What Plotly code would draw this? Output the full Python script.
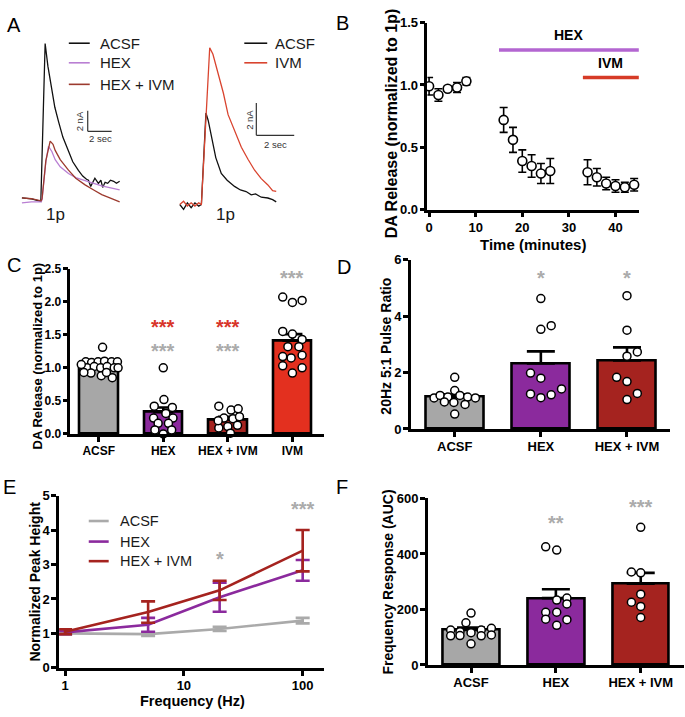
import math
import plotly.graph_objects as go

W, H = 685, 717
FONT = "Liberation Sans, Arial, sans-serif"

# ---------------- DATA ----------------
# Panel A (left): example traces, time (s) vs current (nA)
A_ACSF_t = [0, 0.8, 1.58, 1.94, 2.17, 2.5, 2.75, 3.06, 3.42, 3.89, 4.25, 4.72, 5.08, 5.4, 5.56, 5.75, 5.9, 6.1, 6.39, 6.6, 6.75, 6.95, 7.17, 7.4, 7.67, 7.9, 8.17]
A_ACSF_v = [0.38, 0.29, 0.05, 15.4, 13.2, 11.0, 9.2, 7.8, 6.3, 4.95, 3.9, 3.05, 2.5, 2.2, 2.1, 1.5, 1.9, 2.3, 1.8, 2.1, 1.4, 1.9, 1.8, 2.1, 2.0, 1.8, 2.0]
A_HEX_t = [0, 0.8, 1.6, 1.68, 2.0, 2.22, 2.5, 2.78, 3.2, 3.89, 4.5, 5.28, 6.0, 6.67, 7.4, 8.17]
A_HEX_v = [-0.1, 0.0, 0.0, 0.2, 3.9, 5.4, 4.9, 4.1, 3.4, 2.76, 2.35, 2.1, 1.8, 1.55, 1.35, 1.17]
A_HEXIVM_t = [0, 0.8, 1.6, 1.68, 2.0, 2.36, 2.6, 2.78, 3.2, 3.89, 4.5, 5.28, 6.0, 6.67, 7.4, 8.17]
A_HEXIVM_v = [0.38, 0.3, 0.1, 0.3, 4.0, 5.9, 5.6, 5.0, 4.1, 3.08, 2.3, 1.65, 1.15, 0.7, 0.35, 0.0]
# Panel A (right)
A2_ACSF_t = [0, 0.2, 0.4, 0.6, 0.8, 1.0, 1.14, 1.38, 1.5, 1.67, 1.9, 2.19, 2.5, 2.89, 3.2, 3.5, 3.77, 4.0, 4.3, 4.65, 4.9, 5.09]
A2_ACSF_v = [0, -0.3, 0.1, -0.2, 0.1, -0.1, 0, 5.66, 5.2, 4.15, 2.9, 1.92, 1.5, 1.12, 0.9, 0.8, 0.6, 0.65, 0.45, 0.4, 0.3, 0.16]
A2_IVM_t = [0, 0.2, 0.4, 0.6, 0.8, 1.0, 1.14, 1.4, 1.58, 1.75, 2.02, 2.3, 2.55, 2.9, 3.25, 3.6, 3.95, 4.3, 4.65, 4.9, 5.09]
A2_IVM_v = [0, 0.2, -0.1, 0.1, -0.1, 0.1, 0, 6.0, 9.7, 9.3, 8.18, 6.9, 5.56, 4.5, 3.54, 2.8, 2.12, 1.6, 1.21, 0.85, 0.81]
SCALE_NA = 2
SCALE_SEC = 2

# Panel B: time course
B_time = [0, 2, 4, 6, 8, 16, 18, 20, 22, 24, 26, 34, 36, 38, 40, 42, 44]
B_mean = [0.99, 0.92, 0.97, 0.98, 1.03, 0.72, 0.56, 0.39, 0.35, 0.29, 0.31, 0.30, 0.26, 0.21, 0.19, 0.18, 0.20]
B_sem = [0.07, 0.05, 0.02, 0.04, 0.03, 0.10, 0.10, 0.09, 0.09, 0.08, 0.10, 0.10, 0.07, 0.05, 0.05, 0.04, 0.05]
B_HEX_window = [15, 45]
B_IVM_window = [33, 45]

# Panel C
C_cats = ["ACSF", "HEX", "HEX + IVM", "IVM"]
C_mean = [1.04, 0.33, 0.22, 1.41]
C_sem = [0.03, 0.07, 0.04, 0.10]
C_ACSF_pts = [1.31, 1.09, 1.08, 1.09, 1.10, 1.09, 1.09, 1.00, 1.02, 1.00, 1.02, 1.00, 1.05, 1.00, 0.92, 0.88, 0.85, 0.93, 0.93]
C_ACSF_off = [0.06, -0.2, -0.11, -0.01, 0.09, 0.2, 0.29, -0.18, -0.07, 0.03, 0.13, 0.24, -0.27, 0.3, -0.12, 0.04, 0.21, -0.23, 0.12]
C_HEX_pts = [1.0, 0.52, 0.42, 0.40, 0.24, 0.31, 0.24, 0.16, 0.16, 0.06, 0.06, 0.0]
C_HEX_off = [0, 0.01, -0.14, 0.14, -0.15, 0.04, 0.15, -0.08, 0.08, -0.13, 0.13, 0]
C_HEXIVM_pts = [0.42, 0.36, 0.38, 0.24, 0.23, 0.26, 0.09, 0.11, 0.13, 0.01, 0.20]
C_HEXIVM_off = [-0.14, 0.05, 0.16, -0.06, 0.08, 0.18, -0.14, 0, 0.15, 0.04, -0.15]
C_IVM_pts = [2.07, 1.99, 2.02, 1.55, 1.51, 1.43, 1.32, 1.17, 1.15, 1.19, 1.03, 1.00, 0.92, 1.32]
C_IVM_off = [-0.15, 0, 0.15, -0.15, 0, 0.15, 0.1, -0.15, -0.02, 0.15, -0.15, 0.15, 0, -0.07]

# Panel D
D_cats = ["ACSF", "HEX", "HEX + IVM"]
D_mean = [1.13, 2.32, 2.43]
D_sem = [0.10, 0.43, 0.46]
D_ACSF_pts = [1.83, 1.36, 1.10, 1.19, 1.13, 1.19, 1.13, 1.10, 0.96, 0.94, 0.87, 0.53]
D_ACSF_off = [0, 0, -0.24, -0.17, -0.08, 0.06, 0.15, 0.24, -0.12, -0.01, 0.12, 0]
D_HEX_pts = [4.62, 3.53, 3.66, 1.98, 1.80, 1.24, 1.11, 1.21, 1.42]
D_HEX_off = [0, 0, 0.12, -0.12, 0, -0.12, 0, 0.12, 0.24]
D_HEXIVM_pts = [4.72, 3.50, 2.58, 2.73, 1.83, 1.68, 1.26, 1.04]
D_HEXIVM_off = [0, 0, 0, 0.12, -0.12, 0, 0.12, 0]

# Panel E
E_freq = [1, 5, 20, 100]
E_ACSF = [1.0, 0.98, 1.13, 1.37]
E_ACSF_err = [0.03, 0.05, 0.06, 0.08]
E_HEX = [1.03, 1.25, 2.05, 2.83]
E_HEX_err = [0.05, 0.2, 0.42, 0.3]
E_HEXIVM = [1.05, 1.62, 2.25, 3.40]
E_HEXIVM_err = [0.07, 0.31, 0.28, 0.6]

# Panel F
F_cats = ["ACSF", "HEX", "HEX + IVM"]
F_mean = [126, 241, 293]
F_sem = [9, 32, 39]
F_ACSF_pts = [187, 152, 126, 120, 126, 132, 105, 106, 116, 105, 108, 76]
F_ACSF_off = [0, -0.06, -0.24, -0.13, 0.12, 0.24, -0.24, -0.13, 0, 0.12, 0.24, 0]
F_HEX_pts = [426, 414, 234, 241, 190, 190, 220, 165, 163, 143]
F_HEX_off = [-0.12, 0.01, 0.01, 0.13, -0.12, 0.01, 0.13, -0.12, 0.13, 0.01]
F_HEXIVM_pts = [496, 335, 332, 255, 226, 211, 171]
F_HEXIVM_off = [0, -0.11, 0, 0, -0.11, 0, 0]

# ---------------- STYLE ----------------
GRAY = "#a7a7a7"
PURPLE = "#8b2a9d"
DARKRED = "#a5231f"
RED = "#e3301f"
STAR_GRAY = "#ababab"
STAR_RED = "#d8352a"
TR_HEX = "#b97fd3"
TR_HEXIVM = "#9c3a2e"
TR_IVM = "#d9442f"


def px(x):
    return x / W


def py(y):
    return 1 - y / H


fig = go.Figure()

# Panel A traces
for t, v, c in [(A_ACSF_t, A_ACSF_v, "#111111"), (A_HEX_t, A_HEX_v, TR_HEX), (A_HEXIVM_t, A_HEXIVM_v, TR_HEXIVM)]:
    fig.add_trace(go.Scatter(x=t, y=v, mode="lines", line=dict(color=c, width=1.3), xaxis="x", yaxis="y"))
for t, v, c in [(A2_ACSF_t, A2_ACSF_v, "#111111"), (A2_IVM_t, A2_IVM_v, TR_IVM)]:
    fig.add_trace(go.Scatter(x=t, y=v, mode="lines", line=dict(color=c, width=1.3), xaxis="x2", yaxis="y2"))

# Panel B
fig.add_trace(go.Scatter(
    x=B_time, y=B_mean, mode="markers", xaxis="x3", yaxis="y3", cliponaxis=False,
    marker=dict(symbol="circle", size=9, color="white", line=dict(color="black", width=1.6)),
    error_y=dict(type="data", array=B_sem, color="black", thickness=1.6, width=4)))


def bar_panel(xa, ya, cats, means, sems, colors, pts, offs, width, capw):
    n = len(cats)
    fig.add_trace(go.Bar(
        x=list(range(n)), y=means, width=width, xaxis=xa, yaxis=ya,
        marker=dict(color=colors, line=dict(color="black", width=2.6)),
        error_y=dict(type="data", symmetric=False, array=sems, arrayminus=[0] * n,
                     color="black", thickness=2.6, width=capw)))
    for i, (p, o) in enumerate(zip(pts, offs)):
        fig.add_trace(go.Scatter(
            x=[i + d for d in o], y=p, mode="markers", xaxis=xa, yaxis=ya, cliponaxis=False,
            marker=dict(symbol="circle", size=8, color="white", line=dict(color="black", width=1.5))))


bar_panel("x4", "y4", C_cats, C_mean, C_sem, [GRAY, PURPLE, DARKRED, RED],
          [C_ACSF_pts, C_HEX_pts, C_HEXIVM_pts, C_IVM_pts],
          [C_ACSF_off, C_HEX_off, C_HEXIVM_off, C_IVM_off], 0.6, 10)
bar_panel("x5", "y5", D_cats, D_mean, D_sem, [GRAY, PURPLE, DARKRED],
          [D_ACSF_pts, D_HEX_pts, D_HEXIVM_pts],
          [D_ACSF_off, D_HEX_off, D_HEXIVM_off], 0.68, 14)
bar_panel("x7", "y7", F_cats, F_mean, F_sem, [GRAY, PURPLE, DARKRED],
          [F_ACSF_pts, F_HEX_pts, F_HEXIVM_pts],
          [F_ACSF_off, F_HEX_off, F_HEXIVM_off], 0.67, 14)

# Panel E
for y, e, c in [(E_ACSF, E_ACSF_err, "#aaaaaa"), (E_HEX, E_HEX_err, PURPLE), (E_HEXIVM, E_HEXIVM_err, DARKRED)]:
    fig.add_trace(go.Scatter(
        x=E_freq, y=y, mode="lines", xaxis="x6", yaxis="y6",
        line=dict(color=c, width=2.6),
        error_y=dict(type="data", array=e, color=c, thickness=2.6, width=7)))


def ax(**kw):
    d = dict(showline=True, linecolor="black", linewidth=2.5, ticks="outside", ticklen=5,
             tickwidth=2.5, tickcolor="black", showgrid=False, zeroline=False,
             tickfont=dict(family=FONT, size=13, color="black", weight="bold"), fixedrange=True,
             ticklabelstandoff=-1)
    d.update(kw)
    return d


hidden = dict(visible=False, fixedrange=True)
layout_axes = dict(
    xaxis=dict(hidden, domain=[px(10), px(130)], range=[-0.833, 9.17], anchor="y"),
    yaxis=dict(hidden, domain=[py(210), py(20)], range=[-1.05, 17.05], anchor="x"),
    xaxis2=dict(hidden, domain=[px(170), px(300)], range=[-0.437, 6.405], anchor="y2"),
    yaxis2=dict(hidden, domain=[py(210), py(20)], range=[-0.503, 11.01], anchor="x2"),
    xaxis3=ax(domain=[px(426.7), px(639)], range=[-0.35, 45.07], anchor="y3", tickvals=[0, 10, 20, 30, 40]),
    yaxis3=ax(domain=[py(207), py(16)], range=[0, 1.5], anchor="x3", tickvals=[0, 0.5, 1.0, 1.5], tickformat=".1f"),
    xaxis4=ax(domain=[px(68.5), px(323)], range=[-0.44, 3.49], anchor="y4", tickvals=list(range(len(C_cats))),
              ticktext=C_cats, tickfont=dict(family=FONT, size=12, color="black", weight="bold")),
    yaxis4=ax(domain=[py(436), py(267.3)], range=[0, 2.5], anchor="x4", tickvals=[0, 0.5, 1.0, 1.5, 2.0, 2.5],
              tickformat=".1f", tickfont=dict(family=FONT, size=12, color="black", weight="bold")),
    xaxis5=ax(domain=[px(410), px(670)], range=[-0.51, 2.5], anchor="y5", tickvals=list(range(len(D_cats))), ticktext=D_cats),
    yaxis5=ax(domain=[py(431), py(258)], range=[0, 6], anchor="x5", tickvals=[0, 2, 4, 6]),
    xaxis6=ax(domain=[px(57.3), px(323)], type="log", range=[-0.05, 2.18], anchor="y6", tickvals=[1, 10, 100], ticktext=["1", "10", "100"]),
    yaxis6=ax(domain=[py(675), py(499)], range=[0, 5], anchor="x6", tickvals=[0, 1, 2, 3, 4, 5]),
    xaxis7=ax(domain=[px(427), px(684)], range=[-0.51, 2.51], anchor="y7", tickvals=list(range(len(F_cats))), ticktext=F_cats),
    yaxis7=ax(domain=[py(672), py(502)], range=[0, 600], anchor="x7", tickvals=[0, 200, 400, 600]),
)

shapes = []
ann = []


def text(x, y, s, size, color="black", bold=False, angle=0, xanchor="center", yanchor="middle", xref="paper", yref="paper"):
    ann.append(dict(x=x, y=y, xref=xref, yref=yref, text=s, showarrow=False, textangle=angle,
                    xanchor=xanchor, yanchor=yanchor,
                    font=dict(family=FONT, size=size, color=color, weight="bold" if bold else "normal")))


# Panel letters
for L, x, y in [("A", 12, 18), ("B", 341, 16), ("C", 12, 264), ("D", 343, 266), ("E", 8, 490), ("F", 341, 490)]:
    text(px(x), py(y), L, 20)

# Panel A legends
for lab, c, y in [("ACSF", "#111111", 37), ("HEX", TR_HEX, 57), ("HEX + IVM", TR_HEXIVM, 79)]:
    shapes.append(dict(type="line", xref="paper", yref="paper", x0=px(67), x1=px(88), y0=py(y), y1=py(y),
                       line=dict(color=c, width=1.6)))
    text(px(96), py(y), lab, 15, color="#1a1a1a", xanchor="left")
for lab, c, y in [("ACSF", "#111111", 37), ("IVM", TR_IVM, 57)]:
    shapes.append(dict(type="line", xref="paper", yref="paper", x0=px(243), x1=px(266), y0=py(y), y1=py(y),
                       line=dict(color=c, width=1.6)))
    text(px(272), py(y), lab, 15, color="#1a1a1a", xanchor="left")

# Panel A scale bars (data units of each trace axis)
for xr, yr, t0, v0 in [("x", "y", 5.5, 6.86), ("x2", "y2", 4.04, 4.28)]:
    shapes.append(dict(type="line", xref=xr, yref=yr, x0=t0, x1=t0, y0=v0, y1=v0 + SCALE_NA, line=dict(color="#333333", width=1.2)))
    shapes.append(dict(type="line", xref=xr, yref=yr, x0=t0, x1=t0 + SCALE_SEC, y0=v0, y1=v0, line=dict(color="#333333", width=1.2)))
text(px(78), py(117), "2 nA", 9.5, color="#333333", angle=-90)
text(px(99), py(134), "2 sec", 9.5, color="#333333")
text(px(248), py(115), "2 nA", 9.5, color="#333333", angle=-90)
text(px(274), py(140), "2 sec", 9.5, color="#333333")
text(px(54), py(212), "1p", 17, color="#1a1a1a")
text(px(224), py(212), "1p", 17, color="#1a1a1a")

# Panel B treatment bars
shapes.append(dict(type="line", xref="x3", yref="y3", x0=B_HEX_window[0], x1=B_HEX_window[1], y0=1.28, y1=1.28,
                   line=dict(color="#b366d1", width=3.5)))
shapes.append(dict(type="line", xref="x3", yref="y3", x0=B_IVM_window[0], x1=B_IVM_window[1], y0=1.06, y1=1.06,
                   line=dict(color="#d63b27", width=3.5)))
text(30, 1.40, "HEX", 14, bold=True, xref="x3", yref="y3")
text(38.9, 1.18, "IVM", 14, bold=True, xref="x3", yref="y3")

# Axis titles
text(px(391), py(119), "DA Release (normalized to 1p)", 16, bold=True, angle=-90)
text(px(533), py(243), "Time (minutes)", 15, bold=True)
text(px(36), py(356), "DA Release (normalized to 1p)", 13, bold=True, angle=-90)
text(px(385), py(346), "20Hz 5:1 Pulse Ratio", 14, bold=True, angle=-90)
text(px(33), py(587), "Normalized Peak Height", 14, bold=True, angle=-90)
text(px(191), py(709), "Frequency (Hz)", 14.5, bold=True)
text(px(387), py(587), "Frequency Response (AUC)", 14, bold=True, angle=-90)

# Panel E legend
for lab, c, y in [("ACSF", "#aaaaaa", 525), ("HEX", PURPLE, 546), ("HEX + IVM", DARKRED, 566)]:
    shapes.append(dict(type="line", xref="paper", yref="paper", x0=px(87), x1=px(107), y0=py(y), y1=py(y),
                       line=dict(color=c, width=2.6)))
    text(px(116), py(y), lab, 14.5, color="#1a1a1a", xanchor="left")

# Significance stars
SZ = 20
text(1, 1.62, "***", SZ, STAR_RED, True, xref="x4", yref="y4")
text(2, 1.62, "***", SZ, STAR_RED, True, xref="x4", yref="y4")
text(1, 1.25, "***", SZ, STAR_GRAY, True, xref="x4", yref="y4")
text(2, 1.25, "***", SZ, STAR_GRAY, True, xref="x4", yref="y4")
text(3, 2.36, "***", SZ, STAR_GRAY, True, xref="x4", yref="y4")
text(1, 5.35, "*", SZ, STAR_GRAY, True, xref="x5", yref="y5")
text(2, 5.35, "*", SZ, STAR_GRAY, True, xref="x5", yref="y5")
text(math.log10(20), 3.15, "*", SZ, STAR_GRAY, True, xref="x6", yref="y6")
text(math.log10(100), 4.62, "***", SZ, STAR_GRAY, True, xref="x6", yref="y6")
text(1, 512, "**", SZ, STAR_GRAY, True, xref="x7", yref="y7")
text(2, 568, "***", SZ, STAR_GRAY, True, xref="x7", yref="y7")

fig.update_layout(
    width=W, height=H, margin=dict(l=0, r=0, t=0, b=0), autosize=False,
    paper_bgcolor="white", plot_bgcolor="white", showlegend=False,
    shapes=shapes, annotations=ann, bargap=0,
    **layout_axes)

fig.write_html("out.html", config={"displayModeBar": False},
               post_script="document.body.style.margin='0';document.body.style.padding='0';document.body.style.overflow='hidden';")
